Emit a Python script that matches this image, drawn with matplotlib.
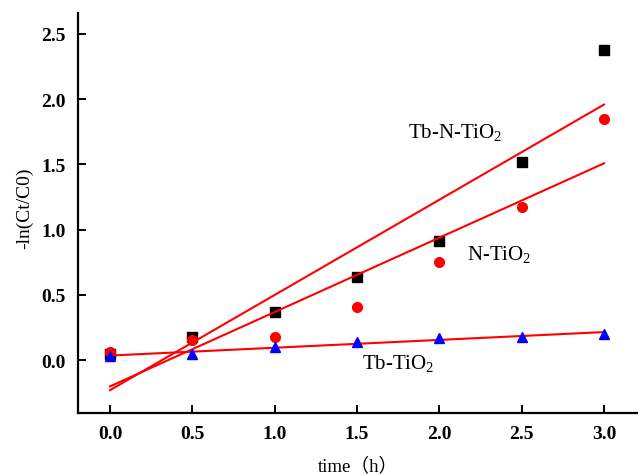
import numpy as np
import matplotlib
matplotlib.use("Agg")
import matplotlib.pyplot as plt

plt.rcParams['mathtext.fontset'] = 'custom'
plt.rcParams['mathtext.rm'] = 'Liberation Serif'
plt.rcParams['mathtext.it'] = 'Liberation Serif'

time_h = [0.0, 0.5, 1.0, 1.5, 2.0, 2.5, 3.0]
tb_n_tio2 = [0.05, 0.176, 0.37, 0.64, 0.91, 1.52, 2.38]
n_tio2 = [0.06, 0.15, 0.18, 0.41, 0.75, 1.17, 1.85]
tb_tio2 = [0.03, 0.05, 0.10, 0.14, 0.17, 0.18, 0.20]

xticks = [0.0, 0.5, 1.0, 1.5, 2.0, 2.5, 3.0]
yticks = [0.0, 0.5, 1.0, 1.5, 2.0, 2.5]

fig = plt.figure(figsize=(6.38, 4.77), dpi=100)
ax = fig.add_axes([78/638, 1-414/477, (637-78)/638, (414-14)/477])

ax.plot(time_h, tb_n_tio2, 's', color='black', markersize=7, zorder=3)
ax.plot(time_h, n_tio2, 'o', color='red', markersize=7, zorder=4)
ax.plot(time_h, tb_tio2, '^', color='blue', markersize=7.5, zorder=5)

x = np.array(time_h)
for series in (tb_n_tio2, n_tio2, tb_tio2):
    k, b = np.polyfit(x, np.array(series), 1)
    xs = np.array([x.min(), x.max()])
    ax.plot(xs, k*xs + b, '-', color='red', linewidth=1.5, zorder=4.5)

ax.set_xlim(-0.194, 3.2)
ax.set_ylim(-0.406, 2.66)
ax.set_xticks(xticks)
ax.set_yticks(yticks)
ax.set_xticklabels([f"{v:.1f}" for v in xticks])
ax.set_yticklabels([f"{v:.1f}" for v in yticks])

for s in ('top', 'right'):
    ax.spines[s].set_visible(False)
for s in ('left', 'bottom'):
    ax.spines[s].set_linewidth(1.6)

ax.tick_params(direction='in', length=5.5, width=1.4, labelsize=14, pad=9)
for lab in ax.get_xticklabels() + ax.get_yticklabels():
    lab.set_fontfamily('Liberation Serif')
    lab.set_fontweight('bold')

ax.set_xlabel('time（h）', family=['Liberation Serif', 'Noto Sans CJK SC'], fontsize=13.5, labelpad=10)
ax.set_ylabel('-ln(Ct/C0)', family=['Liberation Serif'], fontsize=14, labelpad=2)
ax.yaxis.set_label_coords(-0.08, 0.515)

ax.text(1.81, 1.75, 'Tb-N-TiO$_2$', family='Liberation Serif', fontsize=15, ha='left', va='center')
ax.text(2.17, 0.82, 'N-TiO$_2$', family='Liberation Serif', fontsize=15, ha='left', va='center')
ax.text(1.53, -0.02, 'Tb-TiO$_2$', family='Liberation Serif', fontsize=15, ha='left', va='center')

fig.savefig('out.png', dpi=100)
